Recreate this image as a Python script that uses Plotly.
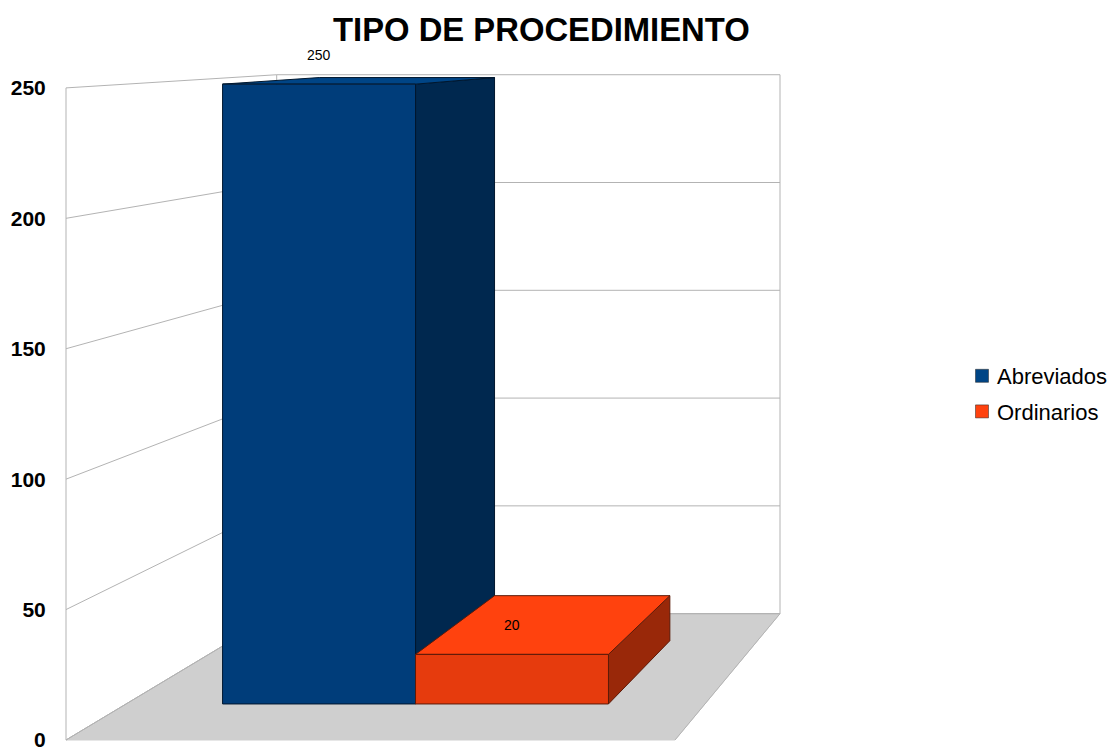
import plotly.graph_objects as go

# ---- data ----
title_text = "TIPO DE PROCEDIMIENTO"
series_names = ["Abreviados", "Ordinarios"]
series_values = [250, 20]
tick_values = [0, 50, 100, 150, 200, 250]

# ---- style ----
FONT = "Liberation Sans"
top_colors = ["#004586", "#ff420e"]
front_colors = ["#003d7a", "#e63b0d"]
side_colors = ["#00284f", "#992809"]
edge_colors = ["#00172e", "#5c1a08"]
GRID = "#b3b3b3"
FLOOR = "#cfcfcf"

# ---- perspective projection (x in pixel-like units, y in value units) ----
X0, X1 = 66, 675          # front edge of the floor
VPX = 1280                # vanishing point x
VPV = 279.1               # vanishing point, in value units
K = 0.21                  # depth foreshortening
D0, D1 = 0.248, 0.752     # bar depth extent
GAP = 0.5                 # gap at each side of the category, in bar widths


def proj(x, v, d):
    s = 1 / (1 + K * d)
    return VPX + (x - VPX) * s, VPV + (v - VPV) * s


def poly(points):
    pts = [proj(*p) for p in points]
    pts.append(pts[0])
    return [p[0] for p in pts], [p[1] for p in pts]


fig = go.Figure()


def add_face(points, fill, line, width=1):
    xs, ys = poly(points)
    fig.add_trace(go.Scatter(x=xs, y=ys, mode="lines", fill="toself", fillcolor=fill,
                             line=dict(color=line, width=width), showlegend=False,
                             hoverinfo="skip"))


def add_line(a, b, color=GRID, width=1):
    pa, pb = proj(*a), proj(*b)
    fig.add_trace(go.Scatter(x=[pa[0], pb[0]], y=[pa[1], pb[1]], mode="lines",
                             line=dict(color=color, width=width), showlegend=False,
                             hoverinfo="skip"))


vmax = max(tick_values)
# floor
add_face([(X0, 0, 0), (X1, 0, 0), (X1, 0, 1), (X0, 0, 1)], FLOOR, FLOOR)
# walls
add_line((X0, 0, 0), (X0, vmax, 0))
add_line((X0, 0, 1), (X0, vmax, 1))
add_line((X1, 0, 1), (X1, vmax, 1))
add_line((X0, 0, 0), (X0, 0, 1))
for t in tick_values:
    add_line((X0, t, 0), (X0, t, 1))
    add_line((X0, t, 1), (X1, t, 1))
add_line((X0, 0, 1), (X1, 0, 1))
add_line((X1, 0, 1), (X1, 0, 0))

# bars
n = len(series_values)
bar_w = (X1 - X0) / (n + 2 * GAP)
annotations = []
for i, (name, val) in enumerate(zip(series_names, series_values)):
    xa = X0 + bar_w * (GAP + i)
    xb = xa + bar_w
    edge = edge_colors[i]
    add_face([(xb, 0, D0), (xb, 0, D1), (xb, val, D1), (xb, val, D0)], side_colors[i], edge)
    add_face([(xa, val, D0), (xb, val, D0), (xb, val, D1), (xa, val, D1)], top_colors[i], edge)
    add_face([(xa, 0, D0), (xb, 0, D0), (xb, val, D0), (xa, val, D0)], front_colors[i], edge)
    lx, ly = proj((xa + xb) / 2, val, D0)
    annotations.append(dict(x=lx, y=ly, xref="x", yref="y", text=str(val), showarrow=False,
                            yshift=29, xanchor="center", yanchor="middle",
                            font=dict(family=FONT, size=14, color="#000000")))

# legend entries
for i, name in enumerate(series_names):
    fig.add_trace(go.Scatter(x=[None], y=[None], mode="markers", name=name,
                             legendgroup=name,
                             marker=dict(symbol="square", size=13, color=top_colors[i],
                                         line=dict(color="#222222", width=0.5))))

annotations.append(dict(x=541.5, y=1 - 29 / 749, xref="x", yref="paper",
                        text="<b>%s</b>" % title_text, showarrow=False,
                        yanchor="middle", xanchor="center",
                        font=dict(family=FONT, size=32.8, color="#000000")))

fig.update_layout(
    width=1112, height=749, autosize=False,
    margin=dict(l=52, r=0, t=0, b=0, autoexpand=False),
    paper_bgcolor="white", plot_bgcolor="white",
    font=dict(family=FONT),
    xaxis=dict(range=[52, 1112], visible=False, fixedrange=True),
    yaxis=dict(range=[-3.45, 283.7], tickmode="array", tickvals=tick_values,
               showgrid=False, zeroline=False, showline=False,
               ticks="outside", ticklen=1, tickcolor="rgba(0,0,0,0)",
               ticklabeloverflow="allow",
               tickfont=dict(family=FONT, size=21, color="#000000", weight="bold"),
               fixedrange=True),
    legend=dict(x=(957 - 52) / 1060, y=1 - 355 / 749, xanchor="left", yanchor="top",
                traceorder="grouped", tracegroupgap=4, itemsizing="trace",
                font=dict(family=FONT, size=22, color="#000000"),
                bgcolor="rgba(0,0,0,0)", borderwidth=0),
    annotations=annotations,
)

fig.write_html("out.html", config={"displayModeBar": False},
               post_script="document.body.style.margin='0';document.body.style.overflow='hidden';"
                           "document.querySelectorAll('.legend .scatterpts').forEach("
                           "function(p){p.setAttribute('transform','translate(25,0)');});")
